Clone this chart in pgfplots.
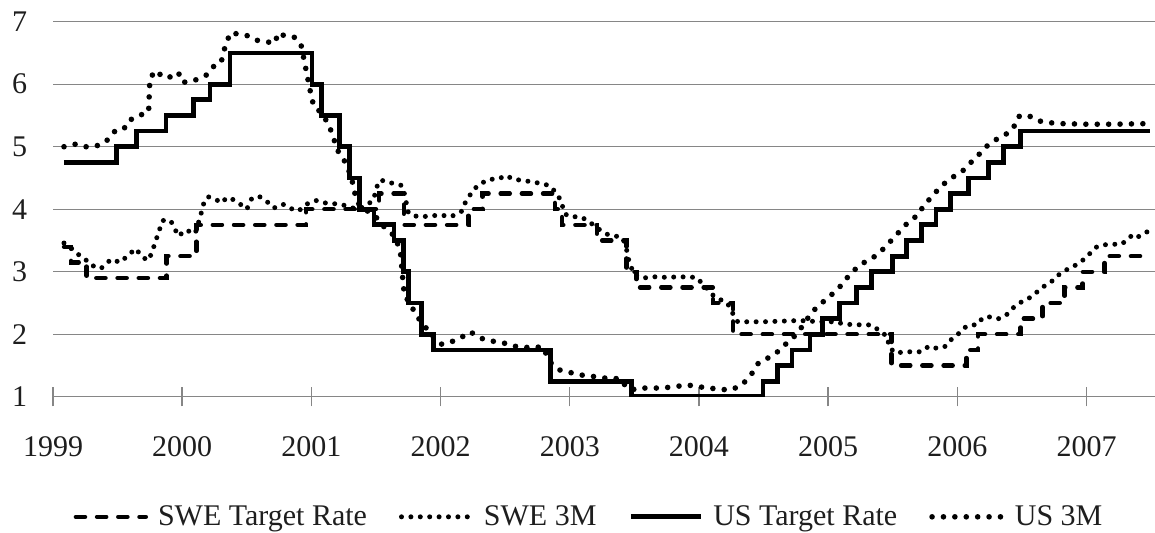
\documentclass[border=0pt]{standalone}
\usepackage{fontspec}
\setmainfont{Liberation Serif}
\usepackage{pgfplots}
\pgfplotsset{compat=1.18}
\definecolor{gridgray}{RGB}{134,134,134}
\definecolor{txt}{RGB}{30,30,30}
\begin{document}
\begin{tikzpicture}
\begin{axis}[
  name=ax,
  scale only axis,
  width=551pt, height=187.55pt,
  xmin=1999, xmax=2007.53, ymin=1, ymax=7,
  xtick={1999,2000,2001,2002,2003,2004,2005,2006,2007},
  xticklabels={1999,2000,2001,2002,2003,2004,2005,2006,2007},
  ytick={1,2,3,4,5,6,7},
  yticklabels={1,2,3,4,5,6,7},
  ymajorgrids,
  grid style={gridgray, line width=0.7pt},
  axis line style={draw=none},
  tick pos=left,
  tick align=center,
  major tick length=9.5pt,
  xtick style={gridgray, line width=0.7pt},
  ytick style={draw=none},
  ticklabel style={font=\fontsize{15}{18}\selectfont, text=txt, inner sep=0pt},
  xticklabel style={anchor=base, yshift=-25pt},
  yticklabel style={anchor=east, xshift=-8pt},
  legend columns=4,
  legend image code/.code={\draw[#1] (0pt,0pt) -- (35pt,0pt);},
  legend style={at={(0.4855,-0.32)}, anchor=center, draw=none, fill=none, inner sep=0pt,
    font=\fontsize{15}{18}\selectfont, text=txt,
    /tikz/every odd column/.append style={column sep=5pt},
    /tikz/every even column/.append style={column sep=16pt},
    nodes={inner sep=0pt}},
  legend cell align=left,
]
% SWE Target Rate
\addplot[black, line width=2.2pt, line cap=round, dash pattern=on 4.6pt off 6pt, const plot] coordinates {
(1999.085,3.40) (1999.14,3.15) (1999.26,2.90) (1999.88,3.25) (2000.11,3.75) (2000.96,4.00)
(2001.525,4.25) (2001.715,3.75) (2002.215,4.00) (2002.325,4.25) (2002.885,4.00) (2002.94,3.75)
(2003.21,3.50) (2003.44,3.00) (2003.515,2.75) (2004.11,2.50) (2004.265,2.00) (2005.49,1.50)
(2006.07,1.75) (2006.16,2.00) (2006.49,2.25) (2006.66,2.50) (2006.83,2.75) (2006.97,3.00)
(2007.14,3.25) (2007.49,3.25)};
\addlegendentry{SWE Target Rate}
% SWE 3M
\addplot[black, line width=2.5pt, line cap=round, line join=round, dash pattern=on 0pt off 4.7pt] coordinates {
(1999.085,3.46) (1999.13,3.40) (1999.18,3.30) (1999.25,3.20) (1999.29,3.11) (1999.37,3.05)
(1999.45,3.20) (1999.52,3.15) (1999.58,3.26) (1999.64,3.37) (1999.69,3.24) (1999.735,3.18)
(1999.76,3.28) (1999.79,3.46) (1999.82,3.65) (1999.85,3.82) (1999.91,3.82) (1999.94,3.70)
(1999.97,3.57) (2000.03,3.67) (2000.07,3.63) (2000.10,3.61) (2000.14,3.88) (2000.17,4.12)
(2000.20,4.20) (2000.26,4.16) (2000.30,4.10) (2000.35,4.19) (2000.40,4.15) (2000.45,4.08)
(2000.50,4.00) (2000.54,4.18) (2000.60,4.20) (2000.67,4.10) (2000.71,4.02) (2000.78,4.08)
(2000.83,4.02) (2000.90,3.97) (2000.96,4.08) (2001.04,4.14) (2001.11,4.10) (2001.17,4.09)
(2001.22,4.08) (2001.28,4.05) (2001.35,4.00) (2001.42,4.05) (2001.48,4.15) (2001.52,4.45)
(2001.56,4.46) (2001.62,4.42) (2001.70,4.38) (2001.72,4.25) (2001.75,3.95) (2001.78,3.90)
(2001.84,3.88) (2001.92,3.89) (2001.995,3.91) (2002.08,3.88) (2002.165,3.97) (2002.19,4.10)
(2002.25,4.30) (2002.30,4.40) (2002.38,4.48) (2002.44,4.48) (2002.51,4.54) (2002.56,4.48)
(2002.64,4.46) (2002.73,4.43) (2002.81,4.40) (2002.86,4.35) (2002.93,4.15) (2002.96,3.93)
(2003.00,3.88) (2003.08,3.88) (2003.14,3.82) (2003.21,3.70) (2003.29,3.60) (2003.36,3.57)
(2003.42,3.50) (2003.44,3.35) (2003.46,3.15) (2003.50,2.95) (2003.57,2.90) (2003.65,2.92)
(2003.75,2.91) (2003.85,2.92) (2003.98,2.91) (2004.05,2.76) (2004.12,2.60) (2004.22,2.50)
(2004.27,2.30) (2004.30,2.20) (2004.50,2.20) (2004.78,2.22) (2004.86,2.21) (2004.95,2.20)
(2005.05,2.20) (2005.13,2.16) (2005.27,2.15) (2005.33,2.15) (2005.39,2.07) (2005.46,1.96)
(2005.47,1.80) (2005.52,1.70) (2005.60,1.72) (2005.72,1.72) (2005.78,1.81) (2005.82,1.78)
(2005.87,1.78) (2005.91,1.81) (2005.95,1.91) (2006.00,1.99) (2006.05,2.10) (2006.10,2.15)
(2006.15,2.15) (2006.20,2.27) (2006.27,2.28) (2006.32,2.25) (2006.38,2.31) (2006.43,2.42)
(2006.48,2.50) (2006.55,2.57) (2006.60,2.65) (2006.65,2.73) (2006.69,2.80) (2006.74,2.86)
(2006.79,2.96) (2006.86,3.05) (2006.93,3.12) (2006.98,3.20) (2007.03,3.30) (2007.08,3.40)
(2007.13,3.43) (2007.20,3.44) (2007.27,3.44) (2007.32,3.52) (2007.36,3.60) (2007.40,3.56)
(2007.47,3.64)};
\addlegendentry{SWE 3M}
% US Target Rate
\addplot[black, line width=2.4pt, const plot] coordinates {
(1999.085,4.75) (1999.49,5.00) (1999.645,5.25) (1999.875,5.50) (2000.09,5.75) (2000.215,6.00)
(2000.37,6.50) (2001.005,6.00) (2001.08,5.50) (2001.215,5.00) (2001.295,4.50) (2001.37,4.00)
(2001.485,3.75) (2001.64,3.50) (2001.71,3.00) (2001.75,2.50) (2001.85,2.00) (2001.945,1.75)
(2002.85,1.25) (2003.48,1.00) (2004.495,1.25) (2004.61,1.50) (2004.72,1.75) (2004.86,2.00)
(2004.955,2.25) (2005.09,2.50) (2005.22,2.75) (2005.335,3.00) (2005.495,3.25) (2005.605,3.50)
(2005.72,3.75) (2005.835,4.00) (2005.95,4.25) (2006.085,4.50) (2006.24,4.75) (2006.355,5.00)
(2006.49,5.25) (2007.49,5.25)};
\addlegendentry{US Target Rate}
% US 3M
\addplot[black, line width=2.8pt, line cap=round, line join=round, dash pattern=on 0pt off 5.7pt] coordinates {
(1999.085,5.00) (1999.17,5.04) (1999.23,5.00) (1999.31,5.00) (1999.38,5.04) (1999.44,5.14)
(1999.49,5.28) (1999.57,5.31) (1999.61,5.45) (1999.68,5.51) (1999.74,5.55) (1999.75,6.10)
(1999.80,6.22) (1999.85,6.11) (1999.90,6.11) (1999.97,6.19) (2000.00,6.03) (2000.06,6.04)
(2000.12,6.08) (2000.19,6.15) (2000.24,6.28) (2000.30,6.34) (2000.32,6.50) (2000.34,6.67)
(2000.38,6.83) (2000.43,6.80) (2000.50,6.78) (2000.56,6.71) (2000.64,6.68) (2000.72,6.66)
(2000.74,6.82) (2000.81,6.76) (2000.87,6.75) (2000.92,6.63) (2001.00,5.80) (2001.02,5.64)
(2001.05,5.60) (2001.13,5.38) (2001.17,5.15) (2001.20,4.95) (2001.25,4.80) (2001.31,4.52)
(2001.33,4.30) (2001.36,4.10) (2001.42,3.99) (2001.49,3.90) (2001.57,3.70) (2001.65,3.56)
(2001.69,3.30) (2001.71,2.82) (2001.72,2.63) (2001.76,2.50) (2001.82,2.28) (2001.88,2.12)
(2001.93,2.00) (2001.96,1.91) (2002.01,1.84) (2002.08,1.88) (2002.13,1.91) (2002.23,2.04)
(2002.30,1.95) (2002.36,1.90) (2002.44,1.88) (2002.51,1.85) (2002.57,1.81) (2002.65,1.79)
(2002.73,1.79) (2002.79,1.80) (2002.85,1.55) (2002.92,1.43) (2003.00,1.39) (2003.08,1.35)
(2003.17,1.33) (2003.25,1.30) (2003.33,1.30) (2003.40,1.28) (2003.44,1.14) (2003.52,1.11)
(2003.58,1.14) (2003.67,1.14) (2003.76,1.15) (2003.84,1.17) (2003.91,1.19) (2004.00,1.16)
(2004.08,1.14) (2004.16,1.12) (2004.24,1.11) (2004.32,1.17) (2004.37,1.27) (2004.42,1.40)
(2004.46,1.54) (2004.51,1.59) (2004.58,1.68) (2004.63,1.75) (2004.67,1.84) (2004.74,1.97)
(2004.77,2.04) (2004.87,2.34) (2004.93,2.47) (2005.00,2.58) (2005.06,2.70) (2005.11,2.80)
(2005.16,2.94) (2005.22,3.06) (2005.28,3.15) (2005.35,3.23) (2005.41,3.33) (2005.47,3.46)
(2005.52,3.57) (2005.58,3.71) (2005.64,3.83) (2005.70,3.91) (2005.74,4.07) (2005.80,4.19)
(2005.86,4.34) (2005.91,4.43) (2005.97,4.52) (2006.04,4.61) (2006.10,4.74) (2006.15,4.83)
(2006.20,4.96) (2006.27,5.08) (2006.34,5.16) (2006.41,5.24) (2006.44,5.33) (2006.47,5.48)
(2006.52,5.51) (2006.57,5.48) (2006.62,5.42) (2006.68,5.39) (2006.80,5.37) (2007.00,5.36)
(2007.20,5.36) (2007.49,5.37)};
\addlegendentry{US 3M}
\end{axis}
\path (ax.south west) ++(-26.5pt,-68.1pt) coordinate (A);
\path (ax.north east) ++(0pt,10.85pt) coordinate (B);
\pgfresetboundingbox
\path[use as bounding box] (A) rectangle (B);
\end{tikzpicture}
\end{document}
